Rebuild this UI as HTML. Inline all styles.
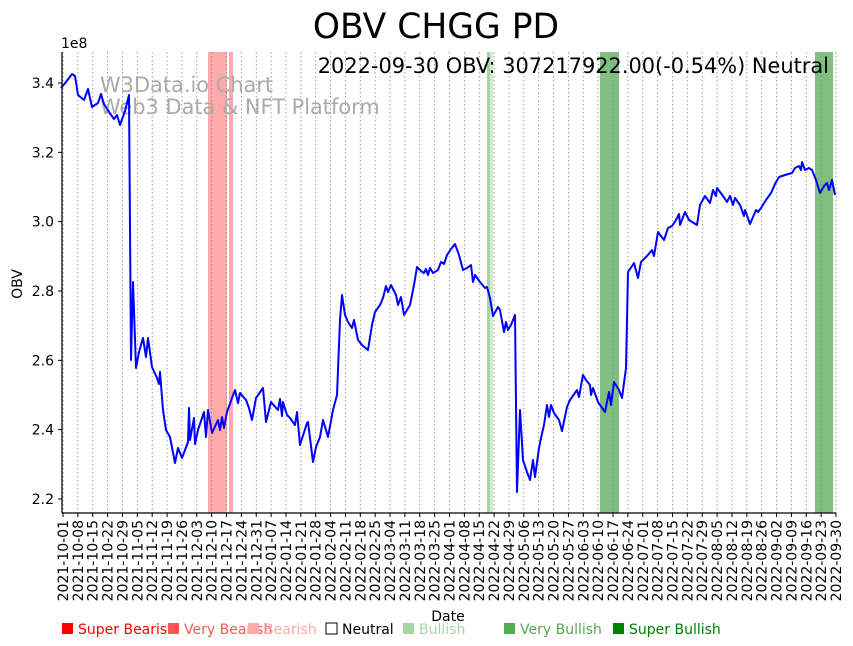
<!DOCTYPE html>
<html><head><meta charset="utf-8"><style>
html,body{margin:0;padding:0;background:#fff;}
svg{display:block;font-family:"DejaVu Sans","Liberation Sans",sans-serif;}
</style></head><body>
<svg id="s" width="853" height="646" viewBox="0 0 853 646" xmlns="http://www.w3.org/2000/svg">
<rect width="853" height="646" fill="#fff"/>
<rect x="208" y="52" width="19" height="461" fill="#ffaaaa"/>
<rect x="229" y="52" width="4" height="461" fill="#ffaaaa"/>
<rect x="487" y="52" width="3" height="461" fill="#a8d5a8"/>
<rect x="490" y="52" width="3" height="461" fill="#d2ead2"/>
<rect x="600" y="52" width="19" height="461" fill="#80bf80"/>
<rect x="815" y="52" width="18" height="461" fill="#80bf80"/>
<g id="grid"></g>
<text x="100" y="92" font-size="20.9" fill="#aaa">W3Data.io Chart</text>
<text x="100" y="114" font-size="20.9" fill="#aaa">Web3 Data &amp; NFT Platform</text>
<polyline fill="none" stroke="#0000ff" stroke-width="2" stroke-linejoin="round" points="61,88 66,82 72,74 75,76 78,95 84,100 88,89 92,107 98,103 101,94 104,104 109,112 114,119 117,115 120,125 125,111 129,95 131,360 133,282 136,368 139,352 143,338 146,357 148,338 152,367 157,378 159,384 160,372 163,410 166,430 170,437 175,463 178,448 182,458 188,442 189,408 190,440 194,418 195,444 198,430 204,412 206,437 208,410 212,433 218,420 220,430 222,417 224,428 227,412 232,398 235,390 238,403 240,393 246,400 249,408 252,420 256,398 263,388 266,422 271,402 278,410 280,399 282,416 283,402 287,415 290,418 295,425 297,412 300,445 307,423 308,422 313,462 316,447 320,437 323,420 328,437 333,410 337,395 340,320 342,295 345,315 348,322 352,328 354,320 358,340 362,345 368,350 372,325 375,312 380,305 383,298 386,286 388,292 391,285 396,295 398,305 401,297 404,315 410,305 414,285 417,267 421,271 424,273 426,269 428,275 430,268 433,273 438,270 441,262 444,264 447,255 451,249 455,244 459,255 463,270 467,268 471,265 473,282 475,275 480,282 485,288 487,287 490,298 493,316 498,307 500,310 504,332 506,322 508,330 511,325 513,320 515,315 517,492 520,410 523,460 527,472 530,480 533,460 535,477 539,448 541,438 544,425 547,405 549,417 551,405 554,413 559,420 562,431 567,407 570,400 577,390 579,397 583,375 586,380 590,385 591,395 593,388 598,402 605,412 609,392 611,405 614,382 619,390 622,398 626,368 628,272 634,263 638,278 641,262 647,256 652,250 654,256 658,232 664,240 668,228 672,226 676,220 679,214 680,225 685,212 689,220 697,225 700,205 705,196 710,203 713,190 716,196 717,188 723,196 727,202 730,196 733,205 735,198 740,205 744,216 745,210 750,224 756,210 758,212 761,208 766,200 771,193 775,184 779,177 785,175 792,173 795,168 799,166 801,170 802,162 805,170 809,168 812,170 816,180 820,193 824,186 827,183 829,190 832,180 835,195"/>
<line x1="62" y1="52" x2="62" y2="513" stroke="#000" stroke-width="1.2"/>
<line x1="62" y1="513" x2="836" y2="513" stroke="#000" stroke-width="1.2"/>
<g id="yt" font-size="14" text-anchor="end"></g>
<g id="xt" font-size="14"></g>
<text x="61" y="48" font-size="14">1e8</text>
<text x="436" y="38" font-size="34.5" text-anchor="middle">OBV CHGG PD</text>
<text x="829" y="73" font-size="20.9" text-anchor="end">2022-09-30 OBV: 307217922.00(-0.54%) Neutral</text>
<text x="22" y="284" font-size="14" text-anchor="middle" transform="rotate(-90 22 284)">OBV</text>
<text x="448" y="621" font-size="14" text-anchor="middle">Date</text>
<g font-size="14">
<rect x="62" y="623" width="11" height="11" fill="#ff0000"/><text x="78" y="634" fill="#ff0000">Super Bearish</text>
<rect x="168" y="623" width="11" height="11" fill="#ff5555"/><text x="184" y="634" fill="#ff5555">Very Bearish</text>
<rect x="248" y="623" width="11" height="11" fill="#ffaaaa"/><text x="264" y="634" fill="#ffaaaa">Bearish</text>
<rect x="326" y="623" width="11" height="11" fill="none" stroke="#000"/><text x="342" y="634" fill="#000">Neutral</text>
<rect x="403" y="623" width="11" height="11" fill="#a8d5a8"/><text x="419" y="634" fill="#a8d5a8">Bullish</text>
<rect x="504" y="623" width="11" height="11" fill="#55aa55"/><text x="520" y="634" fill="#55aa55">Very Bullish</text>
<rect x="613" y="623" width="11" height="11" fill="#008000"/><text x="629" y="634" fill="#008000">Super Bullish</text>
</g>
</svg>
<script>
var ns="http://www.w3.org/2000/svg";
function el(t,a,p,txt){var e=document.createElementNS(ns,t);for(var k in a)e.setAttribute(k,a[k]);if(txt)e.textContent=txt;p.appendChild(e);return e;}
var g=document.getElementById("grid"),xt=document.getElementById("xt"),yt=document.getElementById("yt");
var d=new Date(Date.UTC(2021,9,1));
for(var i=0;i<53;i++){
 var x=63+i*(773/52);
 el("line",{x1:x,y1:52,x2:x,y2:513,stroke:"#888","stroke-width":"0.8","stroke-dasharray":"1.5,2.5"},g);
 el("line",{x1:x,y1:513,x2:x,y2:517,stroke:"#000"},xt);
 var dd=new Date(d.getTime()+i*7*864e5);
 var s=dd.toISOString().slice(0,10);
 el("text",{x:0,y:0,"text-anchor":"end",transform:"translate("+(x+5)+",520) rotate(-90)"},xt,s);
}
var ys=["3.4","3.2","3.0","2.8","2.6","2.4","2.2"];
for(var j=0;j<7;j++){var y=83+j*69.33;
 el("line",{x1:58,y1:y,x2:62,y2:y,stroke:"#000"},yt);
 el("text",{x:54,y:y+5},yt,ys[j]);}
</script>
</body></html>
